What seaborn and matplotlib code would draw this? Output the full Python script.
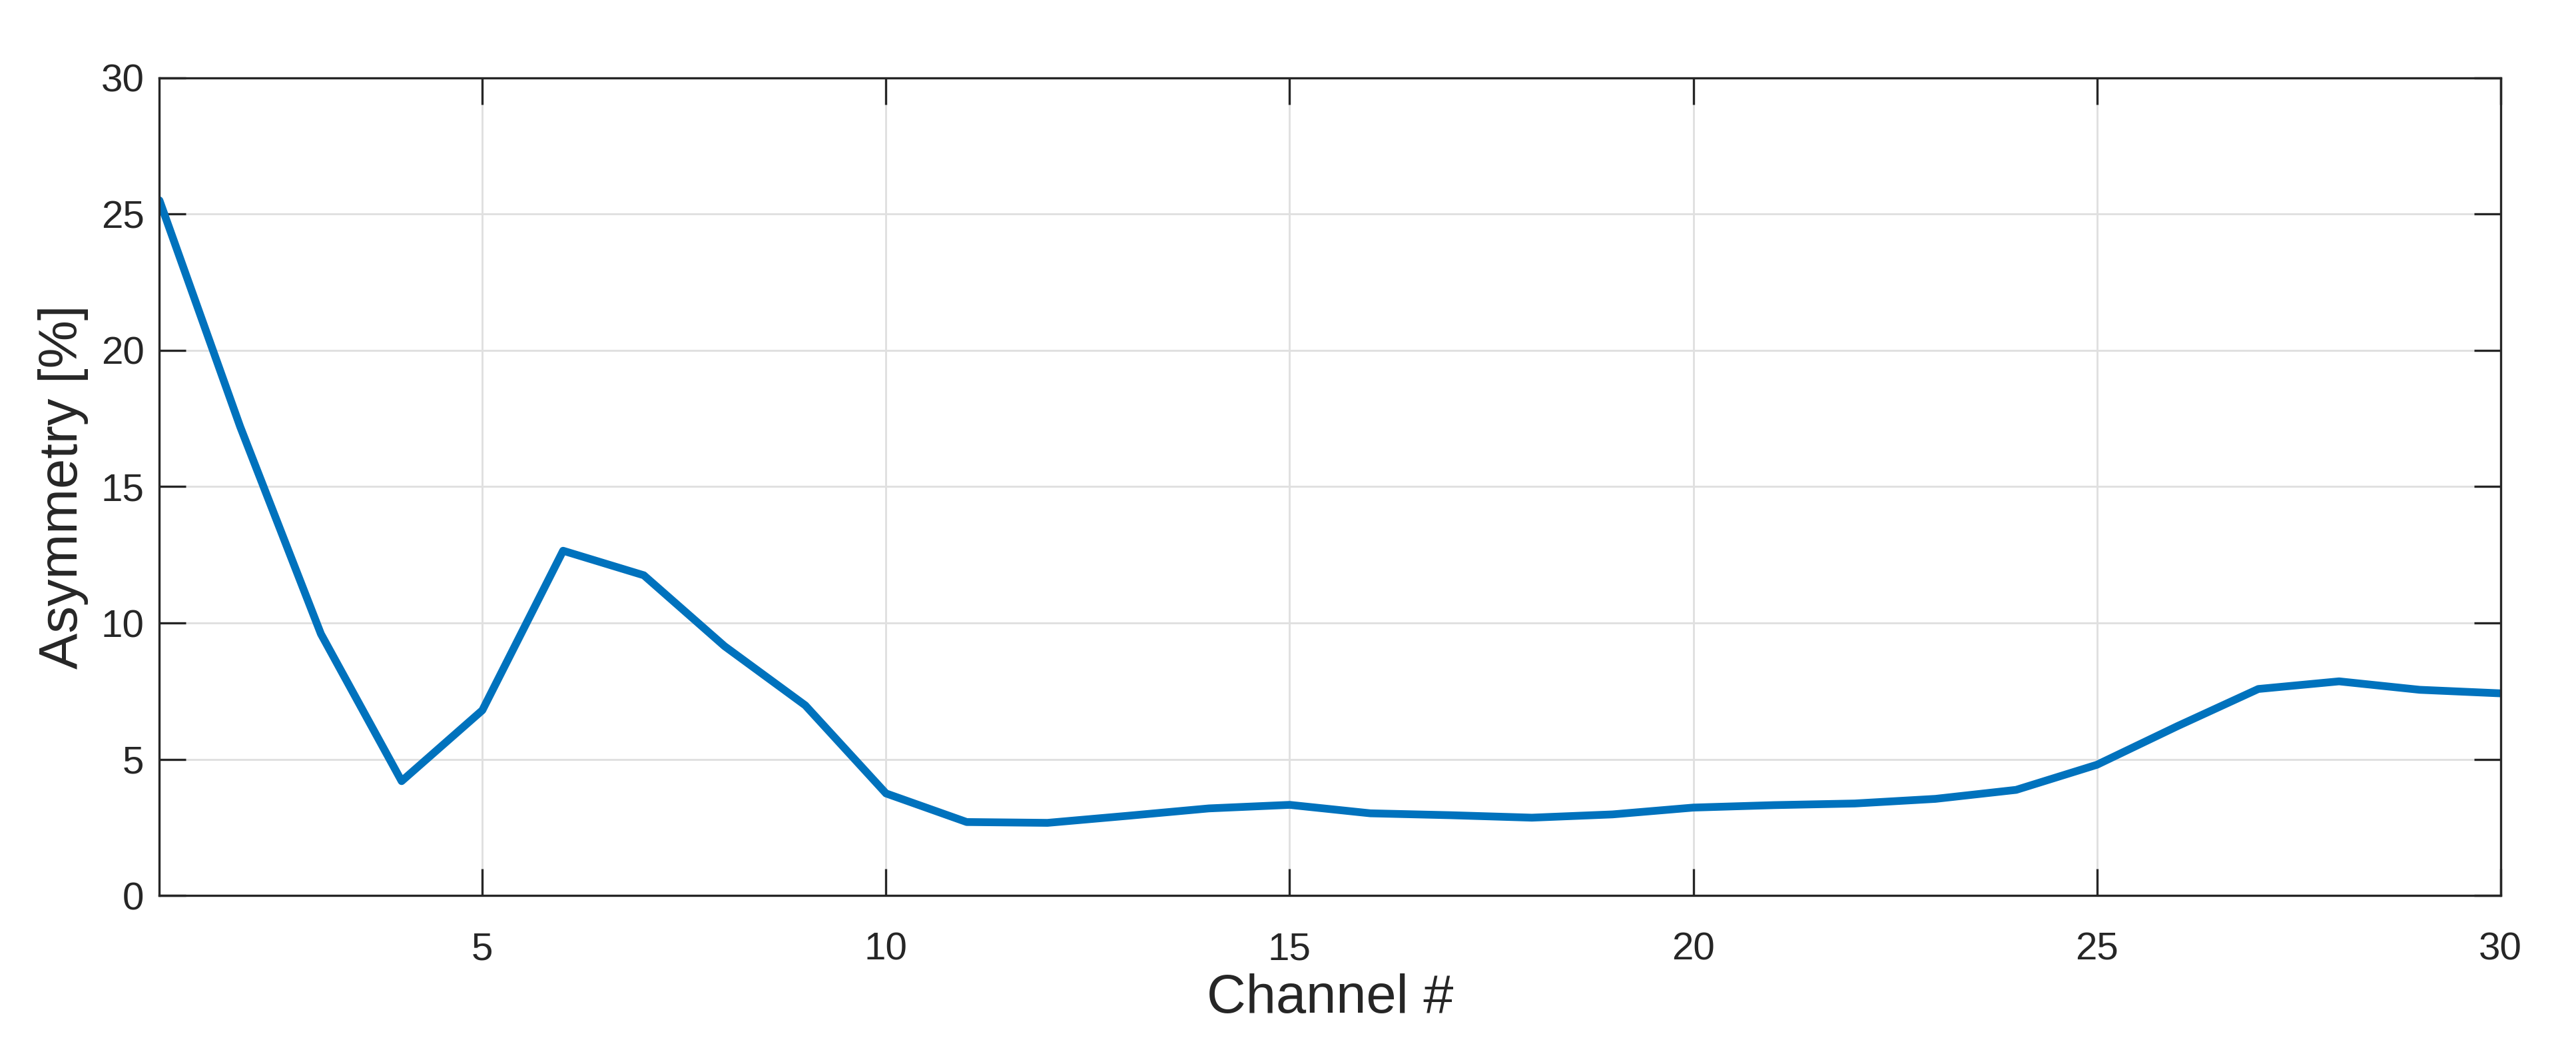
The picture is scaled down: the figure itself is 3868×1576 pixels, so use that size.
import numpy as np
import pandas as pd
import seaborn as sns
import matplotlib.pyplot as plt

channels = list(range(1, 31))
asymmetry = [25.5, 17.2, 9.6, 4.2, 6.8, 12.65, 11.75, 9.15, 6.98, 3.75,
             2.7, 2.67, 2.93, 3.2, 3.33, 3.02, 2.95, 2.86, 2.98, 3.23,
             3.32, 3.38, 3.55, 3.88, 4.8, 6.22, 7.58, 7.86, 7.55, 7.42]

x_ticks = [5, 10, 15, 20, 25, 30]
y_ticks = [0, 5, 10, 15, 20, 25, 30]

df = pd.DataFrame({'channel': channels, 'asym': asymmetry})

sns.set_theme(style="white")
plt.rcParams['font.family'] = ['Liberation Sans', 'DejaVu Sans']

fig = plt.figure(figsize=(3868 / 300, 1576 / 300), dpi=300)
ax = fig.add_axes([0.0619, 0.147, 0.9088, 0.779])

sns.lineplot(data=df, x='channel', y='asym', color='#0072BD', linewidth=2.8, ax=ax)

ax.set_xlim(1, 30)
ax.set_ylim(0, 30)
ax.set_xticks(x_ticks)
ax.set_yticks(y_ticks)
ax.grid(True, color='#e0e0e0', linewidth=0.7)
ax.set_axisbelow(True)

for s in ax.spines.values():
    s.set_color('#262626')
    s.set_linewidth(0.8)
    s.set_visible(True)

ax.tick_params(axis='both', direction='in', length=9.5, width=0.8, color='#262626',
               labelsize=14, labelcolor='#262626', top=True, right=True,
               bottom=True, left=True)
ax.tick_params(axis='x', pad=13)
ax.tick_params(axis='y', pad=5.5)

ax.set_xlabel('Channel #', fontsize=19.5, color='#262626', labelpad=2)
ax.set_ylabel('Asymmetry [%]', fontsize=19.5, color='#262626', labelpad=4.5)

plt.savefig('out.png', dpi=300)
